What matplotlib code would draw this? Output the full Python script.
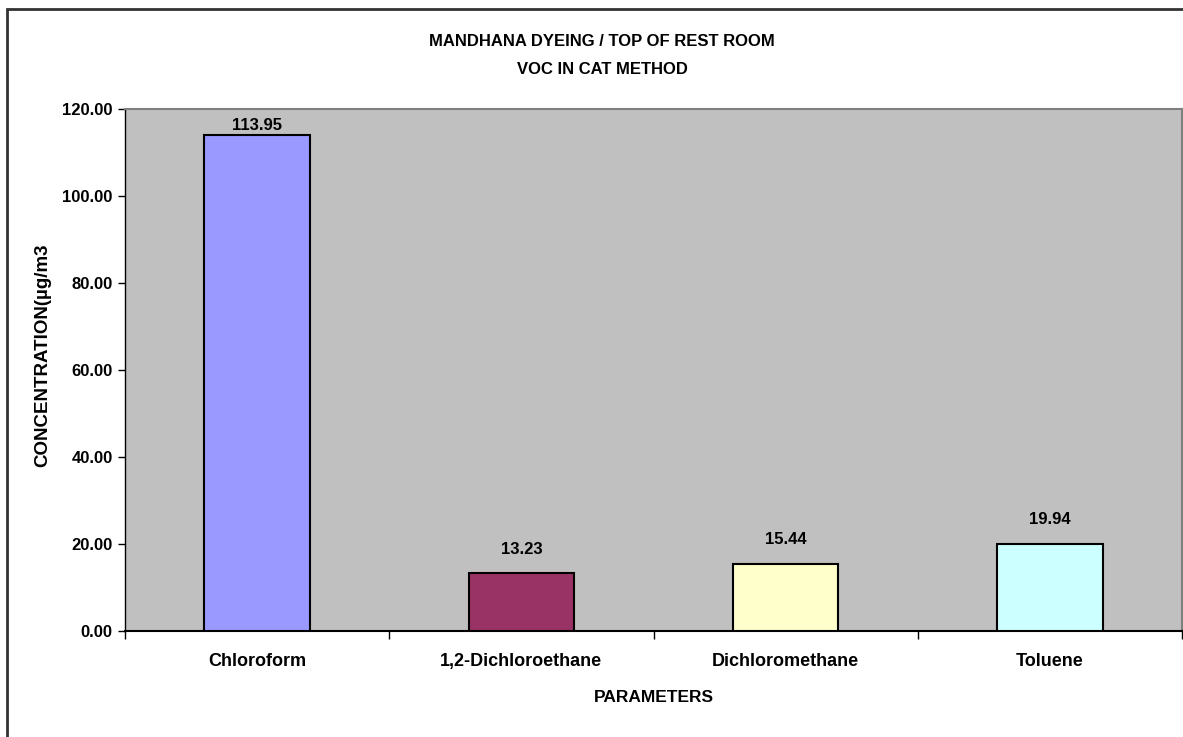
import matplotlib
matplotlib.use("Agg")
import matplotlib.pyplot as plt
from matplotlib.patches import Rectangle
from matplotlib.ticker import FormatStrFormatter
import numpy as np

# chart data
categories = ['Chloroform', '1,2-Dichloroethane', 'Dichloromethane', 'Toluene']
values = [113.95, 13.23, 15.44, 19.94]
colors = ['#9999FF', '#993366', '#FFFFCC', '#CCFFFF']
title_lines = ['MANDHANA DYEING / TOP OF REST ROOM', 'VOC IN CAT METHOD']

plt.rcParams['font.family'] = ['Liberation Sans', 'DejaVu Sans']
plt.rcParams['font.weight'] = 'bold'

W, H = 1183, 737
fig = plt.figure(figsize=(W / 100, H / 100), dpi=100)
ax = fig.add_axes([125 / W, 1 - 631 / H, (1182 - 125) / W, (631 - 109) / H])

x = np.arange(len(categories))
ax.bar(x, values, width=0.4, color=colors, edgecolor='black', linewidth=1.5, zorder=3)

ymax = 120
# label sits above the bar, pushed down if it would leave the plot area
for xi, v in zip(x, values):
    ypos = min(v + 5.6, ymax - 3.8)
    ax.text(xi, ypos, f'{v:.2f}', ha='center', va='center', fontsize=12, fontweight='bold', zorder=4)

ax.set_facecolor('#C0C0C0')
ax.set_xlim(-0.5, len(categories) - 0.5)
ax.set_ylim(0, ymax)
ax.set_yticks(np.arange(0, ymax + 1, 20))
ax.yaxis.set_major_formatter(FormatStrFormatter('%.2f'))

# category ticks sit on the boundaries between groups
ax.set_xticks(x)
ax.set_xticklabels(categories, fontsize=13, fontweight='bold')
ax.tick_params(axis='x', length=0, pad=16)
ax.set_xticks(np.arange(-0.5, len(categories)), minor=True)
ax.tick_params(axis='x', which='minor', length=6, width=1, color='black')
ax.tick_params(axis='y', length=5, width=1, labelsize=12, pad=4)

for name, sp in ax.spines.items():
    sp.set_color('#808080')
    sp.set_linewidth(1.5)
ax.spines['bottom'].set_color('black')
ax.spines['left'].set_color('black')
ax.spines['left'].set_linewidth(1)

fig.text(654 / W, 1 - 697 / H, 'PARAMETERS', ha='center', va='center', fontsize=12.5, fontweight='bold')
fig.text(43 / W, 1 - 355 / H, 'CONCENTRATION(µg/m3', ha='center', va='center', rotation=90,
         fontsize=13.5, fontweight='bold')

fig.text(602 / W, 1 - 42 / H, title_lines[0], ha='center', va='center', fontsize=12, fontweight='bold')
fig.text(602 / W, 1 - 70 / H, title_lines[1], ha='center', va='center', fontsize=12, fontweight='bold')

# outer chart border
fig.patches.append(Rectangle((7 / W, -0.05), 1.1, 1 - 9 / H + 0.05, transform=fig.transFigure,
                             fill=False, edgecolor='#333333', linewidth=2))

fig.savefig('out.png', dpi=100)
